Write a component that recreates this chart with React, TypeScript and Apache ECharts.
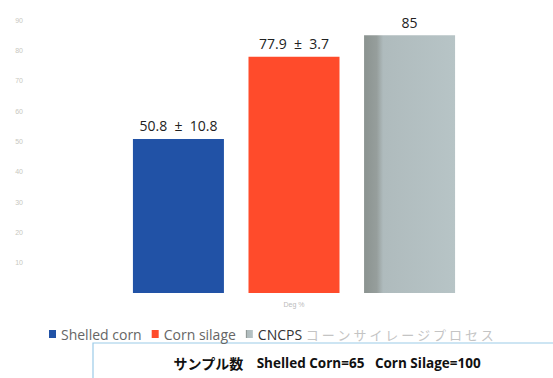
import React, { useEffect, useRef } from "react";
import * as echarts from "echarts";

// One category, three series side by side
const categories = ["Deg %"];
const seriesNames = ["Shelled corn", "Corn silage", "CNCPS コーンサイレージプロセス"];
const seriesValues = [50.8, 77.9, 85];
const valueLabels = ["50.8  ±  10.8", "77.9  ±  3.7", "85"];
const seriesColors = ["#2152a6", "#ff4b2b", "#b5c2c4"];
const yTicks = { min: 0, max: 90, interval: 10 };
const sampleTitle = "サンプル数";
const sampleCounts = "Shelled Corn=65\u00a0\u00a0\u00a0Corn Silage=100";

export default function App() {
  const ref = useRef<HTMLDivElement>(null);

  useEffect(() => {
    if (!ref.current) return;
    const chart = echarts.init(ref.current, null, { renderer: "svg" });

    // darker, worn strip along the left edge of the grey bar
    const grayFill = new echarts.graphic.LinearGradient(0, 0, 1, 0, [
      { offset: 0, color: "#8b9390" },
      { offset: 0.14, color: "#969e9c" },
      { offset: 0.21, color: "#afbbbd" },
      { offset: 1, color: "#b7c4c6" },
    ]);

    const fills = [seriesColors[0], seriesColors[1], grayFill];

    const series = seriesNames.map((name, i) => ({
      name,
      type: "bar" as const,
      data: [seriesValues[i]],
      barWidth: 91,
      barGap: "27%",
      itemStyle: { color: fills[i] },
      label: {
        show: true,
        position: "top" as const,
        distance: 6,
        formatter: () => valueLabels[i],
        color: "#222",
        fontSize: 14,
        fontFamily: "Open Sans, sans-serif",
      },
    }));

    chart.setOption({
      animation: false,
      color: seriesColors,
      grid: { left: 35, right: 0, top: 20, bottom: 85, containLabel: false },
      legend: {
        left: 44,
        top: 322,
        itemWidth: 7,
        itemHeight: 8,
        itemGap: 10,
        icon: "rect",
        textStyle: {
          color: "#666",
          fontSize: 14,
          fontFamily: "Open Sans, sans-serif",
          rich: {
            a: { color: "#333", fontSize: 14, fontFamily: "Open Sans, sans-serif" },
            b: { color: "#c4c4c4", fontSize: 13, fontFamily: "Noto Sans CJK JP, sans-serif" },
          },
        },
        formatter: (name: string) => {
          if (name.startsWith("CNCPS")) {
            const rest = name.slice(6);
            return "{a|CNCPS} {b|" + rest.split("").join(" ") + "}";
          }
          return name;
        },
        data: seriesNames,
      },
      xAxis: {
        type: "category",
        data: categories,
        axisLine: { show: false },
        axisTick: { show: false },
        axisLabel: { color: "#bbb", fontSize: 7, margin: 8 },
      },
      yAxis: {
        type: "value",
        min: yTicks.min,
        max: yTicks.max,
        interval: yTicks.interval,
        splitLine: { show: false },
        axisLine: { show: false },
        axisTick: { show: false },
        axisLabel: {
          color: "#c8c8c0",
          fontSize: 7,
          margin: 12,
          formatter: (v: number) => (v === 0 ? "" : String(v)),
        },
      },
      graphic: [
        {
          type: "rect",
          shape: { x: 93, y: 343, width: 480, height: 60 },
          style: { fill: "#fff", stroke: "#9ccbe8", lineWidth: 1.2 },
        },
        {
          type: "text",
          x: 327,
          y: 363,
          style: {
            text: "{j|" + sampleTitle + "}\u00a0\u00a0\u00a0\u00a0{l|" + sampleCounts + "}",
            align: "center",
            verticalAlign: "middle",
            rich: {
              j: {
                fill: "#111",
                fontSize: 14,
                fontWeight: "bold",
                fontFamily: "Noto Sans CJK JP, sans-serif",
              },
              l: {
                fill: "#111",
                fontSize: 13.5,
                fontWeight: "bold",
                fontFamily: "Open Sans, sans-serif",
              },
            },
          },
        },
      ],
      series,
    });

    return () => chart.dispose();
  }, []);

  return (
    <div
      ref={ref}
      style={{ position: "fixed", left: 0, top: 0, width: 553, height: 378, background: "#fff" }}
    />
  );
}
